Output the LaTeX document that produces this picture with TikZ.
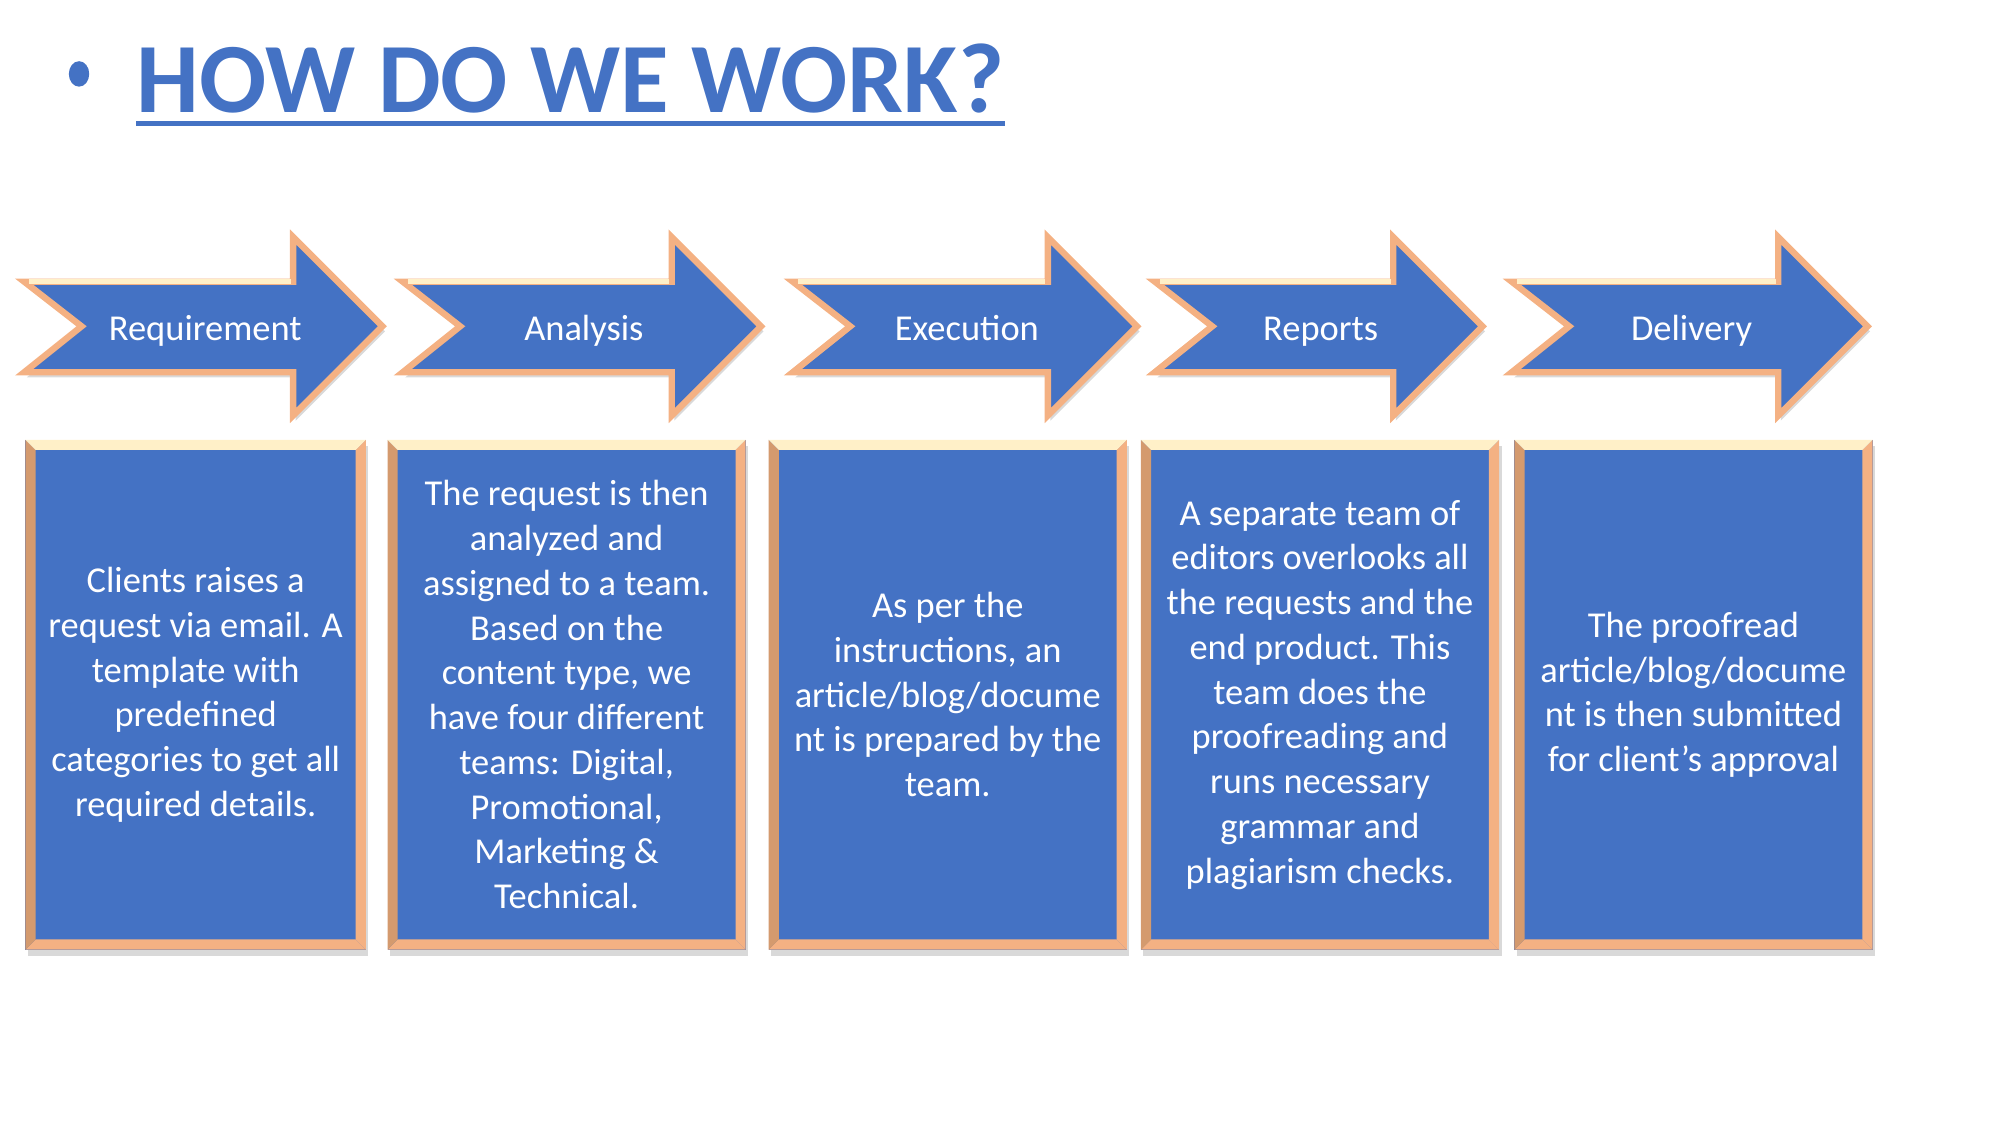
\documentclass[tikz,border=0pt]{standalone}
\usepackage{fontspec}
\setmainfont{Carlito}
\usepackage{xcolor}
\usepackage{tikz}
\usetikzlibrary{shadows}

\definecolor{boxblue}{HTML}{4472C4}
\definecolor{bevpeach}{HTML}{F4B183}
\definecolor{bevlight}{HTML}{FFF0C8}
\definecolor{bevdark}{HTML}{D49A6E}
\definecolor{titleblue}{HTML}{4472C4}

\newcommand{\bodyfont}{\fontsize{14.3pt}{17.55pt}\selectfont}
\newcommand{\bev}{4pt}

% one stage arrow: name, left end, tip, label
\newcommand{\stagearrow}[4]{%
  \draw[arrowbody] (#2+4,221) -- (#3-73,221) -- (#3-73,186) -- (#3-3,256) -- (#3-73,326)
    -- (#3-73,292) -- (#2+4,292) -- (#2+49,256) -- cycle;
  \draw[bevlight, line width=2pt] (#2+8,221) -- (#3-75,221);
  \node[stagelabel, anchor=base] (#1) at ({(#2+#3)/2+2},267) {#4};
}

\tikzset{
  arrowbody/.style={fill=boxblue, draw=bevpeach, line width=2.5pt, line join=miter,
    drop shadow={shadow xshift=1pt, shadow yshift=-2pt, opacity=0.3}},
  stagelabel/.style={text=white, font=\bodyfont, inner sep=0pt},
  titletext/.style={text=titleblue, font=\fontsize{39pt}{47pt}\selectfont\bfseries, inner sep=0pt},
  bevelbox/.style={fill=boxblue, text=white, font=\bodyfont, align=center, inner sep=0pt,
    minimum width=#1, minimum height=200pt,
    drop shadow={shadow xshift=1pt, shadow yshift=-2.5pt, opacity=0.3},
    path picture={
      \coordinate (bb-nw) at (path picture bounding box.north west);
      \coordinate (bb-ne) at (path picture bounding box.north east);
      \coordinate (bb-sw) at (path picture bounding box.south west);
      \coordinate (bb-se) at (path picture bounding box.south east);
      \fill[bevpeach] (bb-sw) -- (bb-se) -- ([xshift=-\bev,yshift=\bev]bb-se) -- ([xshift=\bev,yshift=\bev]bb-sw) -- cycle;
      \fill[bevpeach] (bb-ne) -- (bb-se) -- ([xshift=-\bev,yshift=\bev]bb-se) -- ([xshift=-\bev,yshift=-\bev]bb-ne) -- cycle;
      \fill[bevdark] (bb-nw) -- ([xshift=\bev,yshift=-\bev]bb-nw) -- ([xshift=\bev,yshift=\bev]bb-sw) -- (bb-sw) -- cycle;
      \fill[bevlight] (bb-nw) -- (bb-ne) -- ([xshift=-\bev,yshift=-\bev]bb-ne) -- ([xshift=\bev,yshift=-\bev]bb-nw) -- cycle;
    }},
}

\begin{document}
\begin{tikzpicture}[x=0.5pt, y=-0.5pt]
    \useasboundingbox (0,0) rectangle (1569,882.6);

    % Title
    \fill[titleblue] (62,58) ellipse [x radius=8, y radius=10];
    \node[titletext, anchor=base west] (title) at (107,88) {HOW DO WE WORK?};
    \draw[titleblue, line width=2pt] ([yshift=-4.5pt]title.base west) -- ([yshift=-4.5pt]title.base east);

    % Stage arrows
    \stagearrow{req}{15}{303}{Requirement}
    \stagearrow{ana}{312}{600}{Analysis}
    \stagearrow{exe}{618}{895}{Execution}
    \stagearrow{rep}{902}{1166}{Reports}
    \stagearrow{del}{1182}{1468}{Delivery}

    % Description boxes
    \node[bevelbox=133.5pt] (reqbox) at (153.5,545) {Clients raises a\\request via email. A\\template with\\predefined\\categories to get all\\required details.};
    \node[bevelbox=140.5pt] (anabox) at (444.5,545) {The request is then\\analyzed and\\assigned to a team.\\Based on the\\content type, we\\have four different\\teams: Digital,\\Promotional,\\Marketing \&\\Technical.};
    \node[bevelbox=140.5pt] (exebox) at (743.5,545) {As per the\\instructions, an\\article/blog/docume\\nt is prepared by the\\team.};
    \node[bevelbox=140.5pt] (repbox) at (1035.5,545) {A separate team of\\editors overlooks all\\the requests and the\\end product. This\\team does the\\proofreading and\\runs necessary\\grammar and\\plagiarism checks.};
    \node[bevelbox=140.5pt] (delbox) at (1328.5,545) {The proofread\\article/blog/docume\\nt is then submitted\\for client’s approval};
\end{tikzpicture}
\end{document}
